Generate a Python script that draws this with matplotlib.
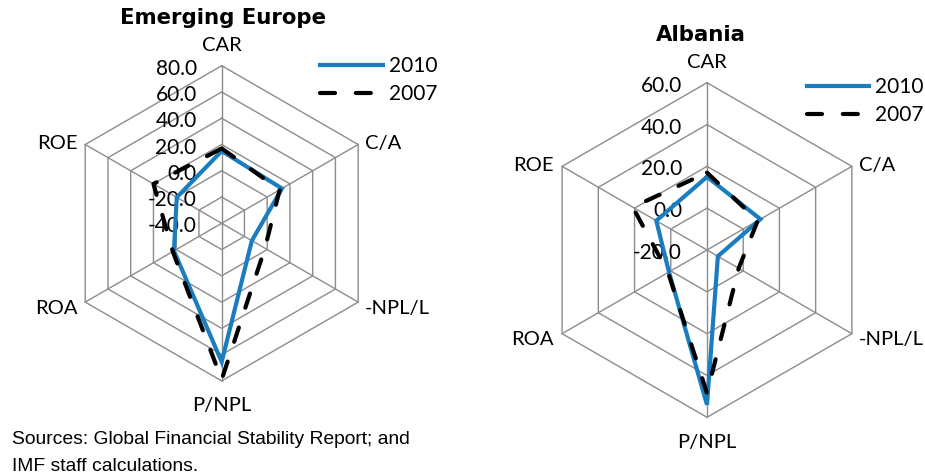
import numpy as np
import matplotlib
matplotlib.use("Agg")
import matplotlib.pyplot as plt

# Chart data
CATEGORIES = ["CAR", "C/A", "-NPL/L", "P/NPL", "ROA", "ROE"]
SERIES_LABELS = ["2010", "2007"]

# Emerging Europe
EUROPE_2010 = [15, 13, -13.5, 65.5, 2, -0.5]
EUROPE_2007 = [17, 11, -2, 79, 3, 20]
EUROPE_TICKS = [-40, -20, 0, 20, 40, 60, 80]

# Albania
ALBANIA_2010 = [15, 9.5, -14, 54, 1, 8]
ALBANIA_2007 = [17, 8, -2.5, 48.5, 1.5, 21]
ALBANIA_TICKS = [-20, 0, 20, 40, 60]

SOURCE_LINES = ["Sources: Global Financial Stability Report; and", "IMF staff calculations."]

W, H = 925, 475
BLUE = "#1a7dc0"
GRID_COLOR = "#8c8c8c"
FONT = "Lato"

# (dx, dy, ha) pixel offsets of category labels from the outer vertices
LABEL_OFFSETS = [(0, 20, "center"), (7, 1, "left"), (7, -6, "left"),
                 (0, -25, "center"), (-8, -6, "right"), (-8, 1, "right")]


def RadarPanel(fig, center, radius, title, title_xy, ticks, values_new, values_old, legend_xy):
    """
    Draw one hexagonal radar chart on a polar axes placed in pixel units.
    """
    cx, cy = center
    ax = fig.add_axes([(cx - radius) / W, (H - cy - radius) / H, 2 * radius / W, 2 * radius / H],
                      projection="polar")
    ax.set_theta_zero_location("N")
    ax.set_theta_direction(-1)
    ax.set_ylim(ticks[0], ticks[-1])
    ax.set_xticks([])
    ax.set_yticks([])
    ax.grid(False)
    ax.spines["polar"].set_visible(False)
    ax.patch.set_visible(False)

    angles = np.deg2rad(np.arange(len(CATEGORIES)) * 360.0 / len(CATEGORIES))
    closed = np.append(angles, angles[0])

    # hexagonal grid
    for level in ticks[1:]:
        ax.plot(closed, [level] * len(closed), color=GRID_COLOR, lw=1.0, zorder=1, clip_on=False)
    for a in angles:
        ax.plot([a, a], [ticks[0], ticks[-1]], color=GRID_COLOR, lw=1.0, zorder=1, clip_on=False)

    # value labels on the CAR spoke
    for level in ticks:
        ax.annotate(f"{level:.1f}", xy=(0, level), xytext=(-25, -3), textcoords="offset pixels",
                    ha="right", va="center", fontsize=15, family=FONT, zorder=2)

    # category labels
    for a, name, (dx, dy, ha) in zip(angles, CATEGORIES, LABEL_OFFSETS):
        ax.annotate(name, xy=(a, ticks[-1]), xytext=(dx, dy), textcoords="offset pixels",
                    ha=ha, va="center", fontsize=14.5, family=FONT)

    line_new, = ax.plot(closed, np.append(values_new, values_new[0]), color=BLUE, lw=3.0,
                        solid_joinstyle="miter", zorder=4, clip_on=False)
    line_old, = ax.plot(closed, np.append(values_old, values_old[0]), color="black", lw=3.0,
                        linestyle=(0, (3.6, 5.0)), dash_capstyle="round", zorder=5, clip_on=False)

    ax.legend([line_new, line_old], SERIES_LABELS, loc="upper left",
              bbox_to_anchor=(legend_xy[0] / W, 1 - legend_xy[1] / H), bbox_transform=fig.transFigure,
              frameon=False, borderpad=0, borderaxespad=0, handlelength=3.0, handletextpad=0.3,
              labelspacing=0.4, prop={"family": FONT, "size": 15})

    fig.text(title_xy[0] / W, 1 - title_xy[1] / H, title, ha="center", va="center",
             fontsize=15.3, fontweight="bold", family="DejaVu Sans")
    return ax


def main():
    fig = plt.figure(figsize=(W / 100, H / 100), dpi=100)

    RadarPanel(fig, (221.7, 223.3), 157.6, "Emerging Europe", (222.5, 18), EUROPE_TICKS,
               EUROPE_2010, EUROPE_2007, (320, 56))
    RadarPanel(fig, (707, 250), 167.3, "Albania", (700.5, 35), ALBANIA_TICKS,
               ALBANIA_2010, ALBANIA_2007, (806.7, 77))

    for i, line in enumerate(SOURCE_LINES):
        fig.text(11.7 / W, 1 - (440 + 26.7 * i) / H, line, ha="left", va="center",
                 fontsize=13.9, family="Liberation Sans")

    fig.savefig("out.png", dpi=100)
    return 0


if __name__ == "__main__":
    main()
